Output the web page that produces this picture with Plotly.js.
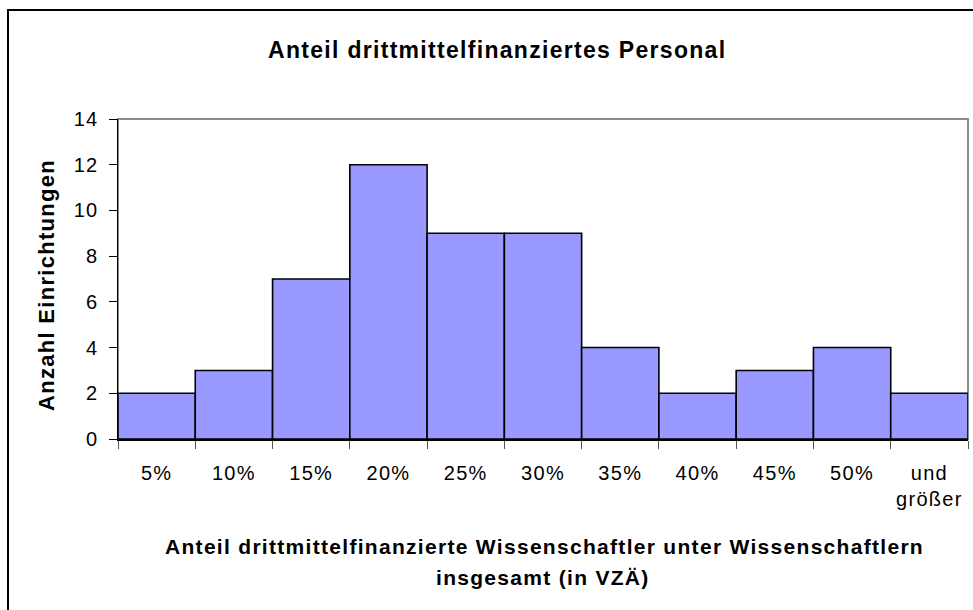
<!DOCTYPE html>
<html><head><meta charset="utf-8">
<script src="https://cdn.plot.ly/plotly-3.0.1.min.js"></script>
<style>html,body{margin:0;padding:0;overflow:hidden;background:#fff}
text{letter-spacing:1.3px}
#frame{position:absolute;left:7px;top:9px;width:1100px;height:800px;border:2px solid #000;pointer-events:none;box-sizing:border-box}
</style></head>
<body>
<div id="chart" style="width:973px;height:610px;"></div>
<div id="frame"></div>
<script>
const categories = ["5%","10%","15%","20%","25%","30%","35%","40%","45%","50%","und<br>größer"];
const counts = [2,3,7,12,9,9,4,2,3,4,2];
const yTicks = [0,2,4,6,8,10,12,14];

const L=118, R=968, T=119, B=439, W=973, H=610;
const pw=R-L, ph=B-T;
const px = x => (x-L)/pw;
const py = y => (B-y)/ph;
const font = "Liberation Sans, Arial, sans-serif";

Plotly.newPlot('chart', [{
  type:'bar', x:categories, y:counts,
  marker:{color:'#9999FF', line:{color:'#000', width:1.6}},
  hoverinfo:'x+y'
}], {
  width:W, height:H,
  margin:{l:L, r:W-R, t:T, b:H-B, pad:0},
  paper_bgcolor:'#fff', plot_bgcolor:'#fff',
  bargap:0, showlegend:false,
  font:{family:font, color:'#000', size:20},
  xaxis:{type:'category', tickson:'boundaries', ticks:'outside', ticklen:8, tickcolor:'#555', tickwidth:1,
    showline:true, linecolor:'#000', linewidth:2, showgrid:false, zeroline:false,
    ticklabelstandoff:15,
    tickfont:{family:font, size:20, color:'#000'}, range:[-0.5,10.5], fixedrange:true},
  yaxis:{range:[0,14], tickvals:yTicks, ticks:'outside', ticklen:8, tickcolor:'#000', tickwidth:1,
    showline:true, linecolor:'#000', linewidth:1.5, showgrid:false, zeroline:false,
    ticklabelstandoff:6,
    tickfont:{family:font, size:20, color:'#000'}, fixedrange:true},
  yaxis2:{range:[0,14], tickvals:yTicks, ticks:'inside', ticklen:8, tickcolor:'#000', tickwidth:1,
    overlaying:'y', side:'left', anchor:'x', showticklabels:false, showline:false,
    showgrid:false, zeroline:false, fixedrange:true},
  shapes:[{type:'rect', xref:'paper', yref:'paper', x0:0, x1:1, y0:0, y1:1,
    line:{color:'#8c8c8c', width:2}, layer:'below'}],
  annotations:[
    {text:'<b>Anteil drittmittelfinanziertes Personal</b>', xref:'paper', yref:'paper',
     x:px(497), y:py(50), xanchor:'center', yanchor:'middle', showarrow:false,
     font:{family:font, size:23, color:'#000'}},
    {text:'<b>Anteil drittmittelfinanzierte Wissenschaftler unter Wissenschaftlern</b>',
     xref:'paper', yref:'paper', x:px(544), y:py(546), xanchor:'center', yanchor:'middle', showarrow:false,
     font:{family:font, size:21, color:'#000'}},
    {text:'<b>insgesamt (in VZÄ)</b>',
     xref:'paper', yref:'paper', x:px(543), y:py(577), xanchor:'center', yanchor:'middle', showarrow:false,
     font:{family:font, size:21, color:'#000'}},
    {text:'<b>Anzahl Einrichtungen</b>', xref:'paper', yref:'paper', textangle:-90,
     x:px(46), y:py(285), xanchor:'center', yanchor:'middle', showarrow:false,
     font:{family:font, size:22, color:'#000'}}
  ]
}, {displayModeBar:false, staticPlot:true});
</script>
</body></html>
